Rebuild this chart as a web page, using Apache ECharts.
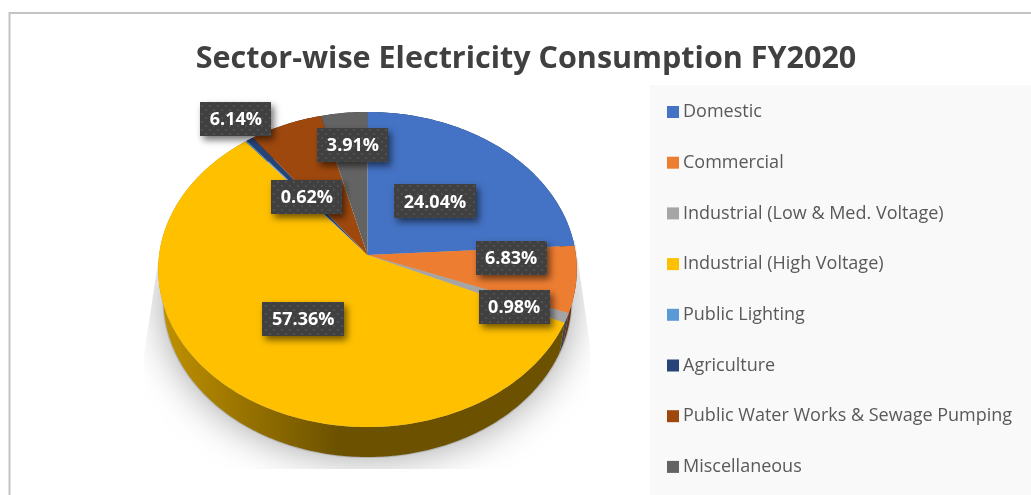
<!DOCTYPE html>
<html>
<head>
<meta charset="utf-8">
<style>
  html, body { margin: 0; padding: 0; background: #fff; }
  #chart { width: 1031px; height: 495px; }
</style>
<script src="https://cdn.jsdelivr.net/npm/echarts@6/dist/echarts.min.js"></script>
</head>
<body>
<div id="chart"></div>
<script>
// Sector shares of electricity consumption, FY2020 (percent)
const categories = [
  'Domestic', 'Commercial', 'Industrial (Low & Med. Voltage)', 'Industrial (High Voltage)',
  'Public Lighting', 'Agriculture', 'Public Water Works & Sewage Pumping', 'Miscellaneous'
];
const shares = [24.04, 6.83, 0.98, 57.36, 0.12, 0.62, 6.14, 3.91];
const colors = ['#4472C4', '#ED7D31', '#A5A5A5', '#FFC000', '#5B9BD5', '#264478', '#9E480E', '#636363'];
const showLabel = [true, true, true, true, false, true, true, true];
const titleText = 'Sector-wise Electricity Consumption FY2020';

// Label nudges from each slice's mid-radius point
const labelNudge = [[-15, 12], [19, -12], [29, 15], [16, -13], [0, 0], [12, 13], [-81, -55], [0, -22]];

// Tilted-disc projection: apex position, radii and perspective strength
const apexX = 367.5, apexY = 255;
const radiusX = 208.4, radiusY = 156.2, tilt = 0.0921, wallDepth = 30, wallTaper = 0.975;

const total = shares.reduce((a, b) => a + b, 0);
const starts = [];
shares.reduce((sum, v, i) => { starts[i] = sum; return sum + v; }, 0);

function project(fraction, r) {
  const t = fraction * 2 * Math.PI;
  const u = r * Math.sin(t), v = r * Math.cos(t);
  const d = 1 + tilt * v;
  return [apexX + radiusX * u / d, apexY - radiusY * v / d];
}

function rimPoints(i) {
  const a = starts[i] / total, b = (starts[i] + shares[i]) / total;
  const n = Math.max(2, Math.ceil((b - a) * 360));
  const pts = [];
  for (let k = 0; k <= n; k++) pts.push(project(a + (b - a) * k / n, 1));
  return pts;
}

function shade(hex, f) {
  const n = parseInt(hex.slice(1), 16);
  return 'rgb(' + [(n >> 16) & 255, (n >> 8) & 255, n & 255].map(c => Math.round(c * f)).join(',') + ')';
}

// Dotted fill used behind the value labels
const tile = document.createElement('canvas');
tile.width = tile.height = 8;
const tileCtx = tile.getContext('2d');
tileCtx.fillStyle = '#404040';
tileCtx.fillRect(0, 0, 8, 8);
tileCtx.fillStyle = '#505050';
tileCtx.fillRect(1, 1, 2, 2);
tileCtx.fillRect(5, 5, 2, 2);

const labelFont = 'bold 18px "Open Sans"';
const measureCtx = document.createElement('canvas').getContext('2d');
measureCtx.font = labelFont;

// Soft grey ground shadow, trimmed to its bounding shape
function renderBackdrop() {
  return {
    type: 'group',
    children: [{
      type: 'ellipse',
      shape: { cx: apexX, cy: 300, rx: 205, ry: 158 },
      style: { fill: '#b4b4b4', shadowBlur: 40, shadowColor: '#a4a4a4' },
      clipPath: {
        type: 'polygon',
        shape: { points: [[158, 262], [575, 240], [590, 345], [590, 469], [144, 469], [144, 355]] }
      }
    }]
  };
}

function renderWall(params) {
  const i = params.dataIndex;
  const rim = rimPoints(i);
  const lower = rim.map(p => [apexX + (p[0] - apexX) * wallTaper, p[1] + wallDepth]).reverse();
  return {
    type: 'polygon',
    shape: { points: rim.concat(lower) },
    style: {
      fill: new echarts.graphic.LinearGradient(158, 0, 340, 0, [
        { offset: 0, color: shade(colors[i], 0.76) },
        { offset: 1, color: shade(colors[i], 0.42) }
      ], true)
    }
  };
}

function renderFace(i) {
  return {
    type: 'polygon',
    shape: { points: [[apexX, apexY]].concat(rimPoints(i)) },
    style: { fill: colors[i] }
  };
}

function renderLabel(params) {
  const i = params.dataIndex;
  if (!showLabel[i]) return null;
  const mid = project((starts[i] + shares[i] / 2) / total, 0.6);
  const cx = mid[0] + labelNudge[i][0], cy = mid[1] + labelNudge[i][1];
  const text = shares[i].toFixed(2) + '%';
  const w = Math.round(measureCtx.measureText(text).width) + 19, h = 34;
  return {
    type: 'group',
    children: [{
      type: 'rect',
      shape: { x: Math.round(cx - w / 2), y: Math.round(cy - h / 2), width: w, height: h },
      style: {
        fill: { image: tile, repeat: 'repeat' },
        shadowBlur: 7, shadowOffsetX: 3, shadowOffsetY: 4, shadowColor: 'rgba(0,0,0,0.55)'
      }
    }, {
      type: 'text',
      style: { text, x: cx, y: cy + 1, align: 'center', verticalAlign: 'middle', fill: '#fff', font: labelFont }
    }]
  };
}

const chart = echarts.init(document.getElementById('chart'), null, { renderer: 'canvas' });
chart.setOption({
  animation: false,
  backgroundColor: '#ffffff',
  title: {
    text: titleText, left: 521, top: 39, textAlign: 'center',
    textStyle: { fontFamily: 'Open Sans', fontWeight: 'bold', fontSize: 30.5, color: '#404040' }
  },
  legend: {
    data: categories, orient: 'vertical', left: 662, top: 95,
    icon: 'rect', itemWidth: 12, itemHeight: 12, itemGap: 26.7,
    textStyle: { fontFamily: 'Open Sans', fontSize: 18, color: '#595959', padding: [0, 0, 0, -1], height: 24, lineHeight: 24 },
    selectedMode: false
  },
  graphic: [
    { type: 'rect', z: -10, silent: true, shape: { x: 650, y: 85, width: 381, height: 410 }, style: { fill: '#f9f9f9' } },
    { type: 'rect', z: -10, silent: true, shape: { x: 9.5, y: 13, width: 1100, height: 600 }, style: { fill: 'none', stroke: '#c4c4c4', lineWidth: 2 } }
  ],
  series: [
    { type: 'custom', name: 'backdrop', coordinateSystem: 'none', silent: true, z: 1, data: [0], renderItem: renderBackdrop },
    { type: 'custom', name: 'walls', coordinateSystem: 'none', silent: true, z: 2, data: shares, renderItem: renderWall }
  ].concat(categories.map((name, i) => ({
    type: 'custom', name, coordinateSystem: 'none', silent: true, z: 3,
    itemStyle: { color: colors[i] },
    data: [shares[i]],
    renderItem: () => renderFace(i)
  }))).concat([
    { type: 'custom', name: 'labels', coordinateSystem: 'none', silent: true, z: 4, data: shares, renderItem: renderLabel }
  ])
});
</script>
</body>
</html>
